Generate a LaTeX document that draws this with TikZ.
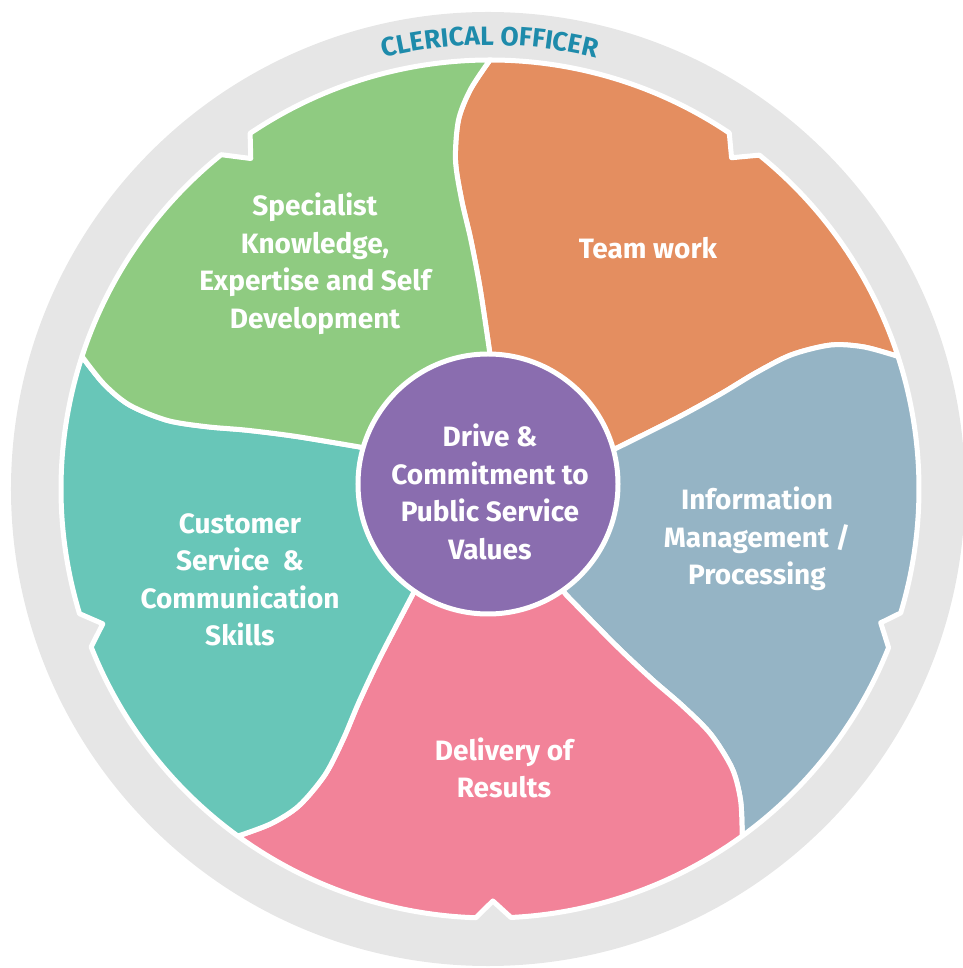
\documentclass[tikz,border=0pt]{standalone}
\usepackage{fontspec}
\setmainfont{Fira Sans}
\usetikzlibrary{decorations.text}
\definecolor{ringgray}{HTML}{E6E6E6}
\definecolor{cgreen}{HTML}{8FCB81}
\definecolor{corange}{HTML}{E48E60}
\definecolor{cblue}{HTML}{95B4C5}
\definecolor{cpink}{HTML}{F28399}
\definecolor{cteal}{HTML}{68C6B8}
\definecolor{cpurple}{HTML}{8A6DAF}
\definecolor{ctitle}{HTML}{1E8BAB}
\begin{document}
\begin{tikzpicture}[x=1pt,y=1pt,
  divout/.style={insert path={-- plot[smooth] coordinates {({#1-0.3}:130pt) ({#1+2.8}:200pt) ({#1+4.4}:250pt) ({#1+5.6}:290pt) ({#1+6.0}:330pt) ({#1+4.9}:370pt) ({#1+2.8}:400pt) ({#1}:429pt)}}},
  divin/.style={insert path={-- plot[smooth] coordinates {({#1}:429pt) ({#1+2.8}:400pt) ({#1+4.9}:370pt) ({#1+6.0}:330pt) ({#1+5.6}:290pt) ({#1+4.4}:250pt) ({#1+2.8}:200pt) ({#1-0.3}:130pt)}}},
  piece/.style={fill=#1, draw=white, line width=5pt, line join=round},
  lbl/.style={text=white, align=center, inner sep=0pt, font=\fontsize{28}{37.5}\selectfont\bfseries},
]
\useasboundingbox (-490,-479) rectangle (472,489);
% grey ring
\fill[ringgray] (-2,0) circle[radius=477pt];
% pieces
\path[piece=corange] (0,0) [divout=18] arc[start angle=18, end angle=51.1, radius=429pt] -- (53.9:410pt) -- (56.1:429pt) arc[start angle=56.1, end angle=90, radius=429pt] [divin=90] -- cycle;
\path[piece=cblue] (0,0) [divout=-54] arc[start angle=-54, end angle=-21.7, radius=429pt] -- (-18.9:413pt) -- (-16.8:429pt) arc[start angle=-16.8, end angle=18, radius=429pt] [divin=18] -- cycle;
\path[piece=cpink] (0,0) [divout=-126] arc[start angle=-126, end angle=-91.9, radius=429pt] -- (-89.6:412pt) -- (-87.2:429pt) arc[start angle=-87.2, end angle=-54, radius=429pt] [divin=-54] -- cycle;
\path[piece=cteal] (0,0) [divout=162] arc[start angle=162, end angle=196.9, radius=429pt] -- (199.2:410pt) -- (201.6:429pt) arc[start angle=201.6, end angle=234, radius=429pt] [divin=234] -- cycle;
\path[piece=cgreen] (0,0) [divout=90] arc[start angle=90, end angle=124, radius=429pt] -- (125.9:408pt) -- (128.8:429pt) arc[start angle=128.8, end angle=162, radius=429pt] [divin=162] -- cycle;
% hub
\node[circle, fill=cpurple, draw=white, line width=5pt, minimum size=260pt, inner sep=0pt] (hub) at (-2,5) {};
% labels
\node[lbl] (tgreen) at (-175,225) {Specialist\\Knowledge,\\Expertise and Self\\Development};
\node[lbl] (torange) at (158,241) {Team work};
\node[lbl] (thub) at (0,-3) {Drive \&\\Commitment to\\Public Service\\Values};
\node[lbl] (tblue) at (267,-50) {Information\\Management /\\Processing};
\node[lbl] (tteal) at (-250,-91) {Customer\\Service\ \ \&\\Communication\\Skills};
\node[lbl] (tpink) at (14,-279) {Delivery of\\Results};
% title along the ring
\path[decorate, decoration={text along path, text align=center, text={|\fontsize{26.5}{26.5}\selectfont\bfseries\color{ctitle}|CLERICAL OFFICER}}] (120:444pt) arc[start angle=120, end angle=60, radius=444pt];
\end{tikzpicture}
\end{document}
